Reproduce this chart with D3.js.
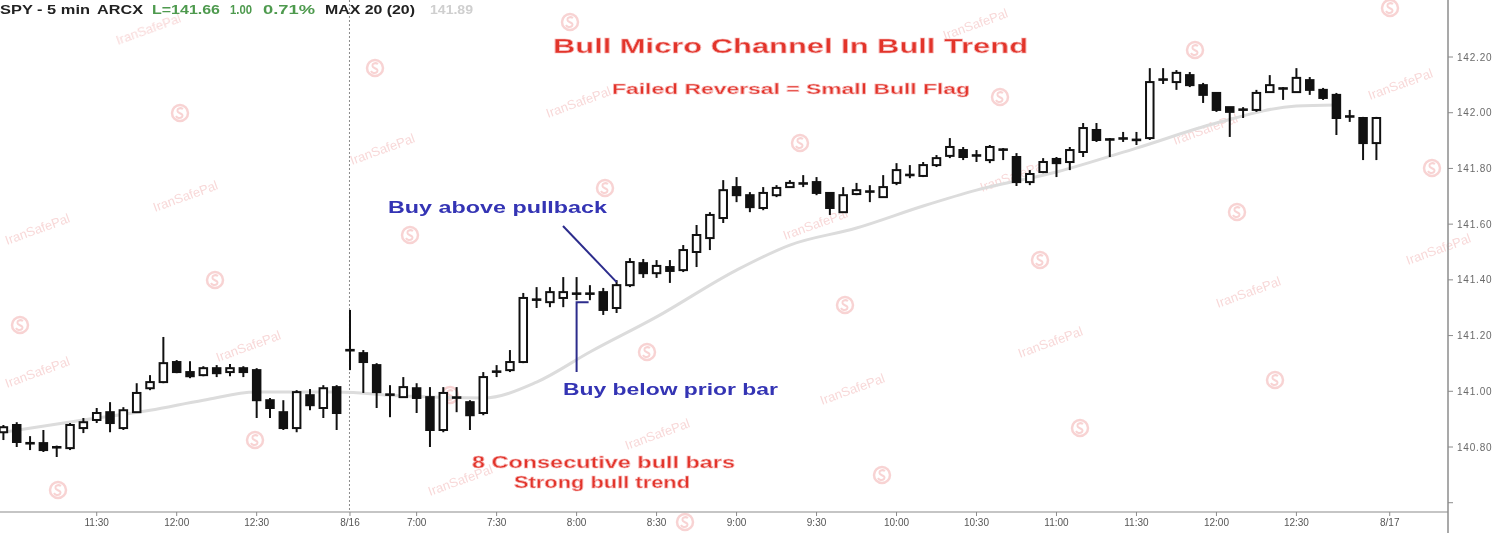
<!DOCTYPE html>
<html>
<head>
<meta charset="utf-8">
<script src="https://cdn.jsdelivr.net/npm/d3@7"></script>
<style>
  html, body { margin: 0; padding: 0; background: #ffffff; }
  svg { display: block; }
</style>
</head>
<body>
<svg id="chart" width="1500" height="533"></svg>
<script>
// ---------------- DATA ----------------
const times = [
  "8/15 10:55","8/15 11:00","8/15 11:05","8/15 11:10","8/15 11:15","8/15 11:20","8/15 11:25","8/15 11:30",
  "8/15 11:35","8/15 11:40","8/15 11:45","8/15 11:50","8/15 11:55","8/15 12:00","8/15 12:05","8/15 12:10",
  "8/15 12:15","8/15 12:20","8/15 12:25","8/15 12:30","8/15 12:35","8/15 12:40","8/15 12:45","8/15 12:50",
  "8/15 12:55","8/15 13:00",
  "8/16 6:35","8/16 6:40","8/16 6:45","8/16 6:50","8/16 6:55","8/16 7:00","8/16 7:05","8/16 7:10",
  "8/16 7:15","8/16 7:20","8/16 7:25","8/16 7:30","8/16 7:35","8/16 7:40","8/16 7:45","8/16 7:50",
  "8/16 7:55","8/16 8:00","8/16 8:05","8/16 8:10","8/16 8:15","8/16 8:20","8/16 8:25","8/16 8:30",
  "8/16 8:35","8/16 8:40","8/16 8:45","8/16 8:50","8/16 8:55","8/16 9:00","8/16 9:05","8/16 9:10",
  "8/16 9:15","8/16 9:20","8/16 9:25","8/16 9:30","8/16 9:35","8/16 9:40","8/16 9:45","8/16 9:50",
  "8/16 9:55","8/16 10:00","8/16 10:05","8/16 10:10","8/16 10:15","8/16 10:20","8/16 10:25","8/16 10:30",
  "8/16 10:35","8/16 10:40","8/16 10:45","8/16 10:50","8/16 10:55","8/16 11:00","8/16 11:05","8/16 11:10",
  "8/16 11:15","8/16 11:20","8/16 11:25","8/16 11:30","8/16 11:35","8/16 11:40","8/16 11:45","8/16 11:50",
  "8/16 11:55","8/16 12:00","8/16 12:05","8/16 12:10","8/16 12:15","8/16 12:20","8/16 12:25","8/16 12:30",
  "8/16 12:35","8/16 12:40","8/16 12:45","8/16 12:50","8/16 12:55","8/16 13:00"
];

const opens = [
  140.853,140.879,140.815,140.814,140.800,140.796,140.868,140.897,140.925,140.868,140.925,141.011,141.033,
  141.105,141.069,141.058,141.083,141.069,141.083,141.076,140.968,140.925,140.868,140.986,140.940,141.015,
  141.150,141.137,141.094,140.986,140.979,141.011,140.979,140.861,140.976,140.961,140.922,141.069,141.076,
  141.105,141.327,141.320,141.335,141.353,141.348,141.356,141.299,141.381,141.460,141.424,141.446,141.435,
  141.500,141.550,141.622,141.733,141.704,141.658,141.704,141.733,141.748,141.751,141.712,141.643,141.708,
  141.719,141.697,141.748,141.780,141.773,141.812,141.845,141.866,141.848,141.830,141.869,141.841,141.751,
  141.787,141.834,141.823,141.859,141.938,141.906,141.906,141.900,141.909,142.117,142.110,142.135,142.099,
  142.071,142.020,142.010,142.010,142.074,142.085,142.074,142.117,142.082,142.064,141.985,141.981,141.891
];
const highs = [
  140.879,140.889,140.839,140.861,140.805,140.886,140.904,140.940,140.961,140.943,141.029,141.058,141.195,
  141.112,141.108,141.090,141.094,141.098,141.090,141.083,140.976,140.968,141.004,141.008,141.022,141.022,
  141.292,141.148,141.101,141.022,141.051,141.029,141.015,141.015,141.015,140.968,141.069,141.094,141.148,
  141.353,141.374,141.374,141.410,141.410,141.381,141.371,141.399,141.478,141.475,141.471,141.471,141.525,
  141.597,141.643,141.758,141.769,141.715,141.733,141.740,141.758,141.776,141.769,141.715,141.733,141.748,
  141.740,141.776,141.819,141.812,141.823,141.848,141.909,141.877,141.866,141.884,141.873,141.855,141.794,
  141.837,141.841,141.877,141.963,141.963,141.909,141.931,141.931,142.160,142.160,142.153,142.146,142.107,
  142.074,142.020,142.020,142.082,142.135,142.092,142.160,142.128,142.089,142.071,142.010,141.985,141.985
];
const lows = [
  140.825,140.800,140.789,140.782,140.764,140.789,140.850,140.886,140.853,140.861,140.922,141.004,141.029,
  141.065,141.047,141.054,141.051,141.054,141.051,140.904,140.904,140.861,140.853,140.932,140.904,140.861,
  141.076,140.994,140.940,140.907,140.976,140.922,140.800,140.853,140.925,140.861,140.914,141.051,141.069,
  141.101,141.299,141.302,141.302,141.327,141.327,141.274,141.281,141.374,141.407,141.407,141.389,141.428,
  141.446,141.507,141.604,141.679,141.643,141.650,141.697,141.730,141.733,141.704,141.633,141.640,141.704,
  141.679,141.694,141.740,141.765,141.769,141.805,141.837,141.830,141.823,141.819,141.830,141.737,141.740,
  141.783,141.769,141.794,141.841,141.895,141.841,141.895,141.884,141.902,142.103,142.082,142.092,142.035,
  142.003,141.913,141.981,142.003,142.071,142.046,142.071,142.064,142.046,141.920,141.967,141.830,141.830
];
const closes = [
  140.871,140.818,140.812,140.789,140.798,140.879,140.889,140.922,140.886,140.932,140.994,141.033,141.101,
  141.069,141.054,141.083,141.065,141.083,141.069,140.968,140.940,140.868,140.997,140.950,141.011,140.922,
  141.145,141.105,140.997,140.990,141.015,140.976,140.861,140.994,140.979,140.914,141.051,141.072,141.105,
  141.335,141.331,141.356,141.356,141.348,141.353,141.292,141.381,141.464,141.424,141.450,141.432,141.507,
  141.561,141.633,141.722,141.704,141.661,141.712,141.730,141.748,141.744,141.712,141.658,141.704,141.722,
  141.715,141.733,141.794,141.773,141.812,141.837,141.877,141.841,141.845,141.877,141.866,141.751,141.780,
  141.823,141.819,141.866,141.945,141.902,141.902,141.909,141.905,142.110,142.121,142.143,142.099,142.064,
  142.010,142.003,142.012,142.071,142.099,142.089,142.125,142.082,142.053,141.981,141.988,141.891,141.981
];

// 20-bar average line at these bars
const maTimes = ["8/15 10:55","8/15 11:25","8/15 11:50","8/15 12:10","8/15 12:30","8/15 13:00",
                 "8/16 6:55","8/16 7:25","8/16 7:45","8/16 8:05","8/16 8:30","8/16 9:00","8/16 9:20",
                 "8/16 9:45","8/16 10:10","8/16 10:30","8/16 11:00","8/16 11:30","8/16 12:00",
                 "8/16 12:30","8/16 12:45"];
const maValues = [140.853,140.897,140.932,140.968,140.997,140.997,
                  140.983,140.976,141.033,141.141,141.267,141.435,141.525,
                  141.586,141.665,141.722,141.787,141.873,141.963,
                  142.024,142.028];

const yTicks = [140.6, 140.8, 141.0, 141.2, 141.4, 141.6, 141.8, 142.0, 142.2];
const xTickTimes  = ["8/15 11:30","8/15 12:00","8/15 12:30","8/16 6:35","8/16 7:00","8/16 7:30","8/16 8:00",
                     "8/16 8:30","8/16 9:00","8/16 9:30","8/16 10:00","8/16 10:30","8/16 11:00","8/16 11:30",
                     "8/16 12:00","8/16 12:30","8/17 6:35"];
const xTickLabels = ["11:30","12:00","12:30","8/16","7:00","7:30","8:00","8:30","9:00","9:30","10:00",
                     "10:30","11:00","11:30","12:00","12:30","8/17"];

// ---------------- CHART ----------------
const svg = d3.select("#chart");
const W = 1500, H = 533;
const plotRight = 1448, axisY = 512;

svg.append("rect").attr("width", W).attr("height", H).attr("fill", "#ffffff");

const idx = t => { const i = times.indexOf(t); return i >= 0 ? i : times.length; };
const x = d3.scaleLinear().domain([0, times.length - 1]).range([3.4, 1376.4]);
const y = d3.scaleLinear().domain([140.8, 142.2]).range([447, 57]);

// watermark layer
const wmTextPos = [[118,45],[548,118],[352,165],[155,212],[785,240],[1175,145],[1370,100],[1408,265],
  [1218,308],[1020,358],[822,405],[627,450],[430,496],[7,388],[7,245],[218,362],[982,192],[945,40]];
const wmLogoPos = [[180,113],[375,68],[570,22],[20,325],[215,280],[410,235],[605,188],[800,143],[1000,97],
  [1195,50],[1390,8],[58,490],[255,440],[450,395],[647,352],[845,305],[1040,260],[1237,212],[1432,168],
  [1080,428],[1275,380],[882,475],[685,522]];
const wm = svg.append("g").attr("opacity", 0.55);
wm.selectAll("text.wm").data(wmTextPos).join("text").attr("class","wm")
  .attr("transform", d => `translate(${d[0]},${d[1]}) rotate(-20)`)
  .attr("font-family", "Liberation Sans, Arial, sans-serif").attr("font-size", 13)
  .attr("fill", "#f2b8b8").text("IranSafePal");
const logos = wm.selectAll("g.logo").data(wmLogoPos).join("g").attr("class","logo")
  .attr("transform", d => `translate(${d[0]},${d[1]})`);
logos.append("circle").attr("r", 8).attr("fill", "none").attr("stroke", "#f2b0b0").attr("stroke-width", 2.5);
logos.append("path").attr("d", "M3,-4 C0,-6 -4,-4 -2,-1 C0,1 4,1 2,4 C0,6 -3,5 -4,3")
  .attr("fill", "none").attr("stroke", "#f2b0b0").attr("stroke-width", 2);

// dashed session divider
svg.append("line").attr("x1", x(idx("8/16 6:35")) - 0.5).attr("x2", x(idx("8/16 6:35")) - 0.5)
  .attr("y1", 0).attr("y2", axisY).attr("stroke", "#8a8a8a").attr("stroke-width", 1)
  .attr("stroke-dasharray", "2,2");

// moving average
const maData = maTimes.map((t, i) => [idx(t), maValues[i]]);
svg.append("path").datum(maData)
  .attr("d", d3.line().x(d => x(d[0])).y(d => y(d[1])).curve(d3.curveMonotoneX))
  .attr("fill", "none").attr("stroke", "#dcdcdc").attr("stroke-width", 3);

// candles
const bars = times.map((t, i) => ({ i, o: opens[i], h: highs[i], l: lows[i], c: closes[i] }));
const cg = svg.append("g");
const bw = 7.5;
const candle = cg.selectAll("g.c").data(bars).join("g").attr("class", "c");
candle.append("line")
  .attr("x1", d => x(d.i)).attr("x2", d => x(d.i))
  .attr("y1", d => y(d.h)).attr("y2", d => y(d.l))
  .attr("stroke", "#111").attr("stroke-width", 2);
candle.each(function(d) {
  const g = d3.select(this);
  const top = y(Math.max(d.o, d.c)), bot = y(Math.min(d.o, d.c));
  if (bot - top < 2) {
    g.append("line").attr("x1", x(d.i) - bw/2 - 1).attr("x2", x(d.i) + bw/2 + 1)
      .attr("y1", (top + bot) / 2).attr("y2", (top + bot) / 2)
      .attr("stroke", "#111").attr("stroke-width", 2.6);
  } else {
    g.append("rect").attr("x", x(d.i) - bw/2).attr("width", bw)
      .attr("y", top).attr("height", bot - top)
      .attr("fill", d.c >= d.o ? "#ffffff" : "#111111")
      .attr("stroke", "#111").attr("stroke-width", 2);
  }
});

// axes
svg.append("line").attr("x1", 0).attr("x2", plotRight).attr("y1", axisY).attr("y2", axisY)
  .attr("stroke", "#8c8c8c").attr("stroke-width", 1.2);
svg.append("line").attr("x1", plotRight).attr("x2", plotRight).attr("y1", 0).attr("y2", H)
  .attr("stroke", "#8c8c8c").attr("stroke-width", 1.5);

const yAxis = svg.append("g");
yAxis.selectAll("line").data(yTicks).join("line")
  .attr("x1", plotRight).attr("x2", plotRight + 5)
  .attr("y1", d => y(d)).attr("y2", d => y(d)).attr("stroke", "#8c8c8c");
yAxis.selectAll("text").data(yTicks.filter(v => v >= 140.8)).join("text")
  .attr("x", plotRight + 9).attr("y", d => y(d) + 3.5)
  .attr("font-family", "Liberation Sans, Arial, sans-serif").attr("font-size", 10)
  .attr("letter-spacing", 0.8).attr("fill", "#6a6a6a")
  .text(d => d3.format(".2f")(d));

const xAxis = svg.append("g");
xTickTimes.forEach((t, k) => {
  const px = x(idx(t));
  xAxis.append("line").attr("x1", px).attr("x2", px).attr("y1", axisY).attr("y2", axisY + 4)
    .attr("stroke", "#8c8c8c");
  xAxis.append("text").attr("x", px).attr("y", axisY + 14).attr("text-anchor", "middle")
    .attr("font-family", "Liberation Sans, Arial, sans-serif").attr("font-size", 10)
    .attr("fill", "#555").text(xTickLabels[k]);
});

// header
const header = [
  ["SPY - 5 min", 0, 90, "#222"], ["ARCX", 97, 46, "#222"], ["L=141.66", 152, 68, "#4e9a4e"],
  ["1.00", 230, 22, "#4e9a4e"], ["0.71%", 263, 52, "#4e9a4e"], ["MAX 20 (20)", 325, 90, "#222"],
  ["141.89", 430, 43, "#cfcfcf"]
];
svg.append("g").selectAll("text").data(header).join("text")
  .attr("x", d => d[1]).attr("y", 14).attr("textLength", d => d[2]).attr("lengthAdjust", "spacingAndGlyphs")
  .attr("font-family", "Liberation Sans, Arial, sans-serif").attr("font-size", 12).attr("font-weight", "bold")
  .attr("fill", d => d[3]).text(d => d[0]);

// annotations
const red = "#e2342a", blue = "#3434b4", navy = "#2c2c8c";
function label(txt, cx, by, len, size, color) {
  svg.append("text").attr("x", cx).attr("y", by).attr("text-anchor", "middle")
    .attr("textLength", len).attr("lengthAdjust", "spacingAndGlyphs")
    .attr("font-family", "Liberation Sans, Arial, sans-serif").attr("font-weight", "bold")
    .attr("font-size", size).attr("fill", color)
    .attr("stroke", color === red ? "#f6b4b4" : "none").attr("stroke-width", color === red ? 0.6 : 0)
    .text(txt);
}
label("Bull Micro Channel In Bull Trend", 790.5, 53, 475, 21, red);
label("Failed Reversal = Small Bull Flag", 791, 94, 358, 14, red);
label("Buy above pullback", 497.5, 213, 219, 17, blue);
label("Buy below prior bar", 670.5, 395, 215, 17, blue);
label("8 Consecutive bull bars", 603.5, 468, 263, 16, red);
label("Strong bull trend", 602, 488, 176, 16, red);

// pointer lines
svg.append("line").attr("x1", 563).attr("y1", 226).attr("x2", x(idx("8/16 8:15"))).attr("y2", y(highs[idx("8/16 8:15")]) + 2)
  .attr("stroke", navy).attr("stroke-width", 2);
svg.append("path")
  .attr("d", `M${x(idx("8/16 8:00"))},372 L${x(idx("8/16 8:00"))},${y(lows[idx("8/16 8:00")]) + 2} L${x(idx("8/16 8:00")) + 12},${y(lows[idx("8/16 8:00")]) + 2}`)
  .attr("fill", "none").attr("stroke", navy).attr("stroke-width", 2);
</script>
</body>
</html>
